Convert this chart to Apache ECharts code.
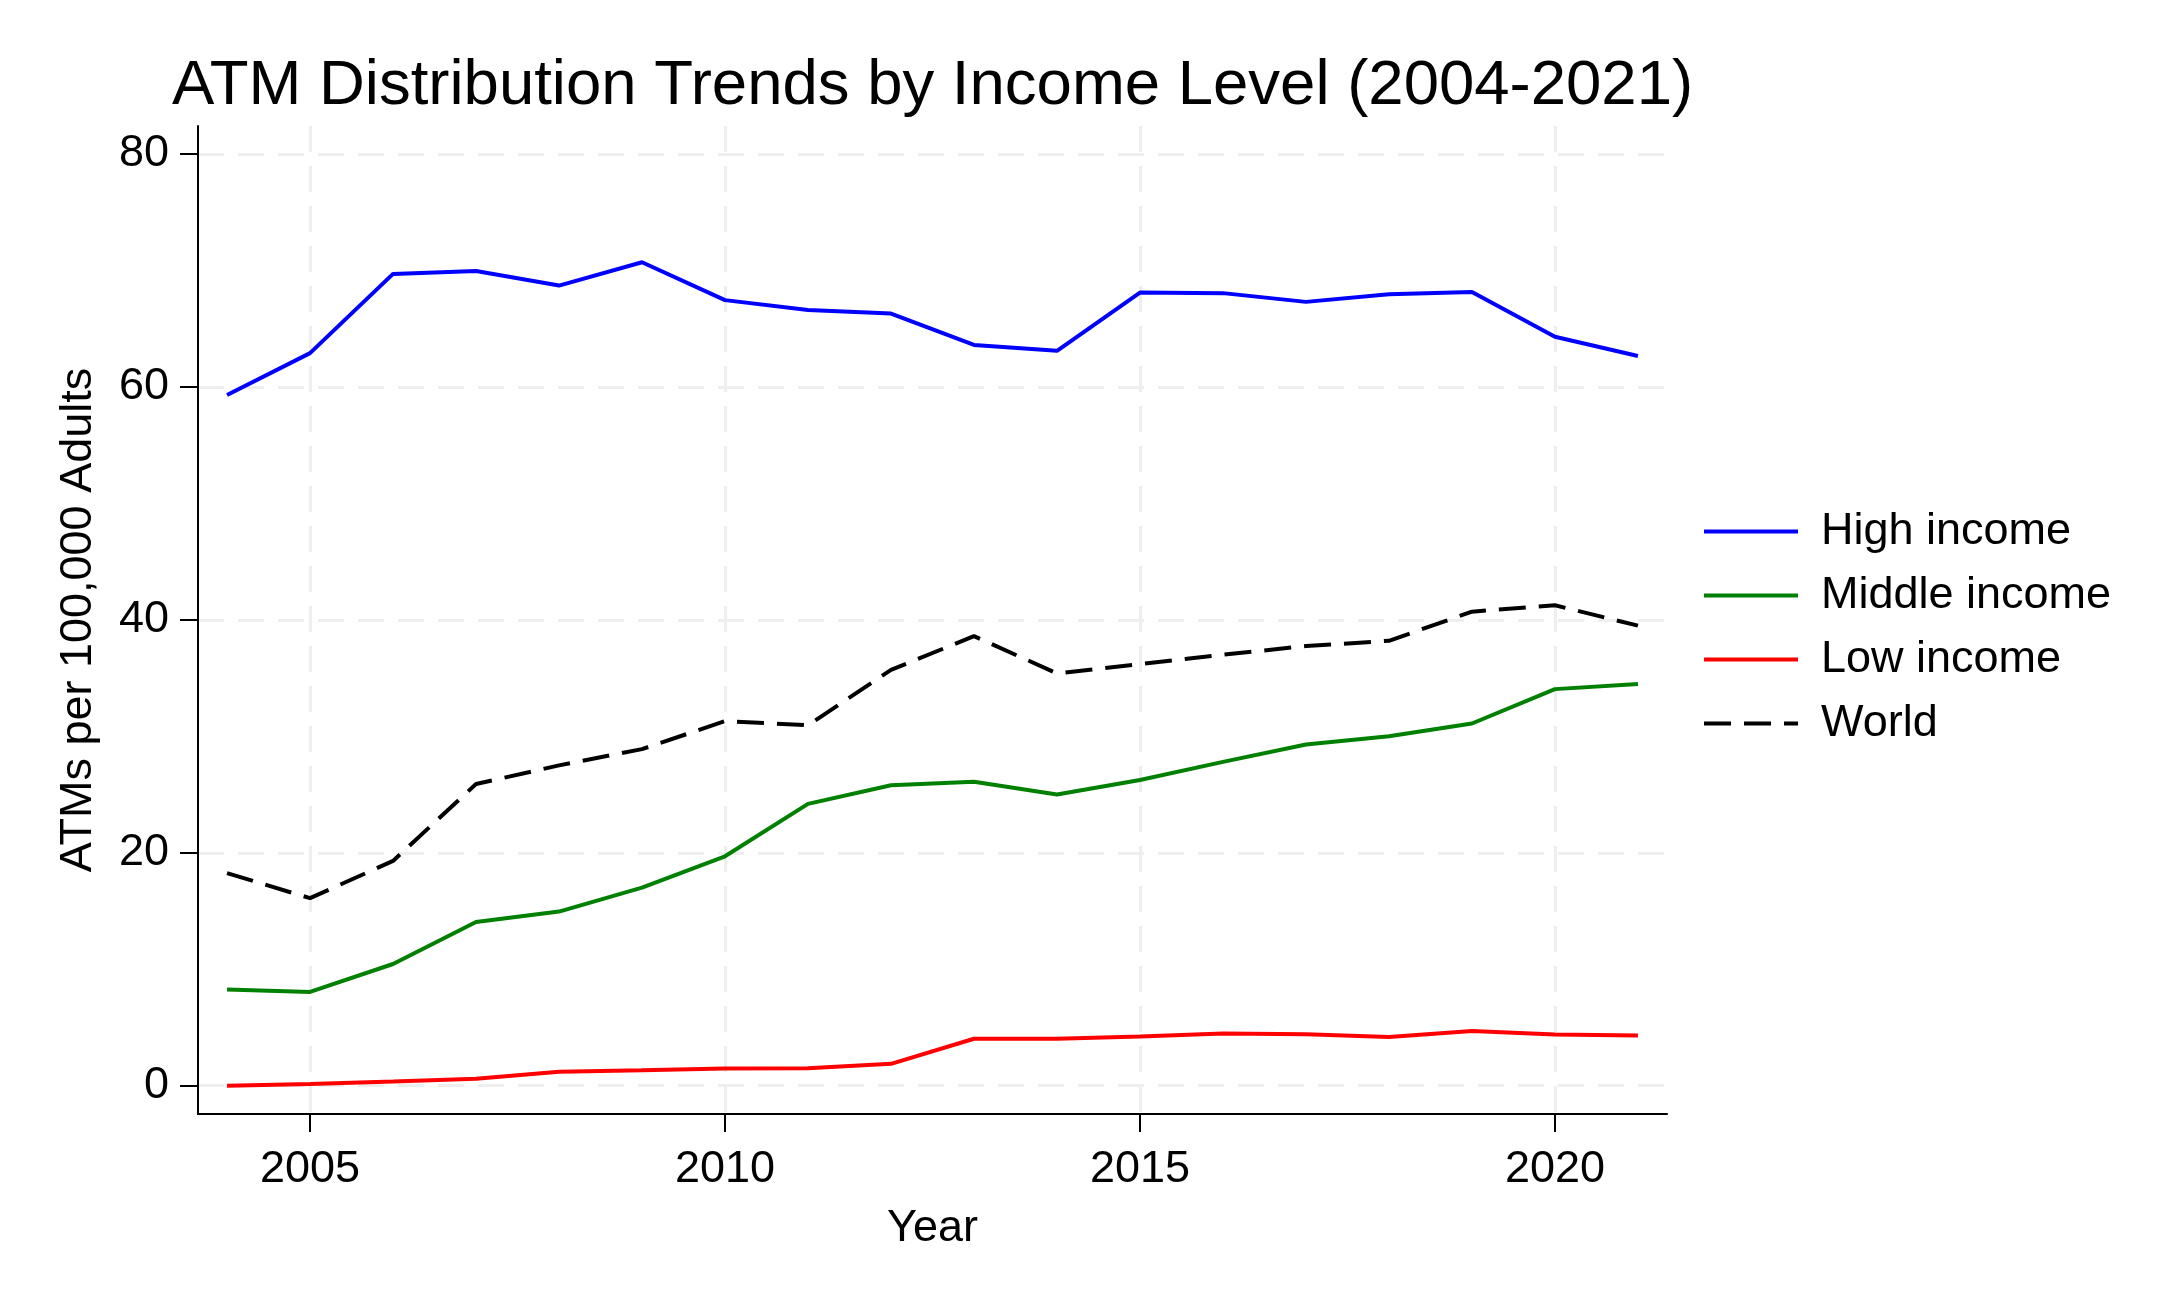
<!DOCTYPE html>
<html>
<head>
<meta charset="utf-8">
<script src="https://cdn.jsdelivr.net/npm/echarts@6/dist/echarts.min.js"></script>
<style>
html,body{margin:0;padding:0;background:#ffffff;}
#chart{width:2178px;height:1306px;}
</style>
</head>
<body>
<div id="chart"></div>
<script>
const years = [2004,2005,2006,2007,2008,2009,2010,2011,2012,2013,2014,2015,2016,2017,2018,2019,2020,2021];
const highIncome = [59.3,62.9,69.7,69.95,68.7,70.7,67.45,66.6,66.3,63.6,63.1,68.1,68.05,67.3,67.95,68.15,64.3,62.65];
const middleIncome = [8.25,8.05,10.45,14.05,14.95,17.0,19.7,24.2,25.8,26.1,25.0,26.25,27.8,29.3,30.0,31.1,34.05,34.5];
const lowIncome = [0.0,0.15,0.35,0.6,1.2,1.33,1.48,1.5,1.88,4.03,4.03,4.22,4.48,4.42,4.18,4.69,4.39,4.3];
const world = [18.25,16.1,19.3,25.9,27.5,28.9,31.3,30.95,35.7,38.6,35.4,36.2,37.0,37.75,38.2,40.7,41.25,39.5];
const seriesNames = ['High income','Middle income','Low income','World'];
const xTickValues = [2005,2010,2015,2020];
const yTickValues = [0,20,40,60,80];
const titleText = 'ATM Distribution Trends by Income Level (2004-2021)';
const xAxisName = 'Year';
const yAxisName = 'ATMs per 100,000 Adults';

const FONT = '"Liberation Sans", Arial, Helvetica, sans-serif';
const pairs = arr => years.map((y, i) => [y, arr[i]]);

const gridLine = {show: true, lineStyle: {color: '#eeeeee', width: 3, type: [26, 14]}};
const axisLineStyle = {show: true, onZero: false, lineStyle: {color: '#000000', width: 2}};

const chart = echarts.init(document.getElementById('chart'), null, {renderer: 'canvas'});
chart.setOption({
  animation: false,
  backgroundColor: '#ffffff',
  title: {
    text: titleText,
    left: 172, top: 54, padding: 0,
    textStyle: {fontFamily: FONT, fontSize: 63.5, fontWeight: 'normal', color: '#000000', lineHeight: 64}
  },
  legend: {
    orient: 'vertical',
    left: 1702, top: 509, padding: 0,
    itemWidth: 94, itemHeight: 20, itemGap: 19,
    data: seriesNames,
    itemStyle: {opacity: 0},
    lineStyle: {width: 4},
    textStyle: {fontFamily: FONT, fontSize: 45, lineHeight: 45, color: '#000000', padding: [0, 0, 0, 18]}
  },
  grid: {left: 198, right: 511, top: 126, bottom: 192, containLabel: false},
  xAxis: {
    type: 'value',
    min: 2003.65, max: 2021.35,
    name: xAxisName, nameLocation: 'middle', nameGap: 92,
    nameTextStyle: {fontFamily: FONT, fontSize: 45, lineHeight: 45, color: '#000000'},
    axisLine: axisLineStyle,
    axisTick: {show: true, customValues: xTickValues, length: 18, lineStyle: {color: '#000000', width: 2}},
    axisLabel: {customValues: xTickValues, formatter: v => String(v), fontFamily: FONT, fontSize: 45, lineHeight: 45, color: '#000000', margin: 33},
    splitLine: gridLine
  },
  yAxis: {
    type: 'value',
    min: -2.43, max: 82.4,
    name: yAxisName, nameLocation: 'middle', nameGap: 97,
    nameTextStyle: {fontFamily: FONT, fontSize: 45, lineHeight: 45, color: '#000000'},
    axisLine: axisLineStyle,
    axisTick: {show: true, customValues: yTickValues, length: 18, lineStyle: {color: '#000000', width: 2}},
    axisLabel: {customValues: yTickValues, formatter: v => String(v), fontFamily: FONT, fontSize: 45, lineHeight: 45, color: '#000000', margin: 29, padding: [10, 0, 0, 0]},
    splitLine: gridLine
  },
  series: [
    {name: seriesNames[0], type: 'line', symbol: 'none', color: '#0000ff', lineStyle: {color: '#0000ff', width: 4}, data: pairs(highIncome)},
    {name: seriesNames[1], type: 'line', symbol: 'none', color: '#008000', lineStyle: {color: '#008000', width: 4}, data: pairs(middleIncome)},
    {name: seriesNames[2], type: 'line', symbol: 'none', color: '#ff0000', lineStyle: {color: '#ff0000', width: 4}, data: pairs(lowIncome)},
    {name: seriesNames[3], type: 'line', symbol: 'none', color: '#000000', lineStyle: {color: '#000000', width: 4, type: [27, 13]}, data: pairs(world)}
  ]
});
</script>
</body>
</html>
